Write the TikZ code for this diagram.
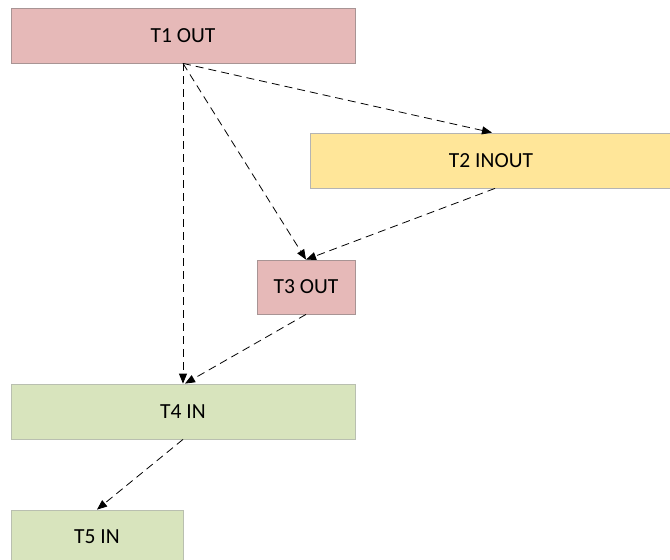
\documentclass[tikz,border=0pt]{standalone}
\usepackage{fontspec}
\setmainfont{Carlito}
\usetikzlibrary{arrows.meta}
\definecolor{outfill}{HTML}{E6B9B8}
\definecolor{outline}{HTML}{A89494}
\definecolor{inoutfill}{HTML}{FFE699}
\definecolor{inoutline}{HTML}{B4B4B4}
\definecolor{infill}{HTML}{D8E4BD}
\definecolor{inline}{HTML}{B9BFB0}
\begin{document}
\begin{tikzpicture}[x=1pt,y=-1pt,
  box/.style={rectangle,inner sep=0pt,font=\fontsize{21.5}{24}\selectfont},
  outbox/.style={box,fill=outfill,draw=outline,line width=0.8pt},
  inoutbox/.style={box,fill=inoutfill,draw=inoutline,line width=0.8pt},
  inbox/.style={box,fill=infill,draw=inline,line width=0.8pt},
  dep/.style={draw=black,line width=0.8pt,dash pattern=on 8pt off 5pt,
    -{Triangle[length=10pt,width=8pt]}}]
\useasboundingbox (0,0) rectangle (670,560);
\clip (0,0) rectangle (670,560);
\node[outbox,minimum width=344pt,minimum height=55pt] (t1) at (183,35.5) {T1 OUT};
\node[inoutbox,minimum width=362pt,minimum height=55pt] (t2) at (491,160.5) {T2 INOUT};
\node[outbox,minimum width=98pt,minimum height=54pt] (t3) at (306,287) {T3 OUT};
\node[inbox,minimum width=344pt,minimum height=55pt] (t4) at (183,411.5) {T4 IN};
\node[inbox,minimum width=172pt,minimum height=60pt] (t5) at (97,540) {};
\node[box] (t5label) at (97,537) {T5 IN};
\draw[dep] (t1.south) -- ([xshift=1pt]t2.north);
\draw[dep] (t1.south) -- (t3.north);
\draw[dep] (t1.south) -- (t4.north);
\draw[dep] ([xshift=4pt]t2.south) -- (t3.north);
\draw[dep] (t3.south) -- ([xshift=2pt]t4.north);
\draw[dep] (t4.south) -- (t5.north);
\end{tikzpicture}
\end{document}
